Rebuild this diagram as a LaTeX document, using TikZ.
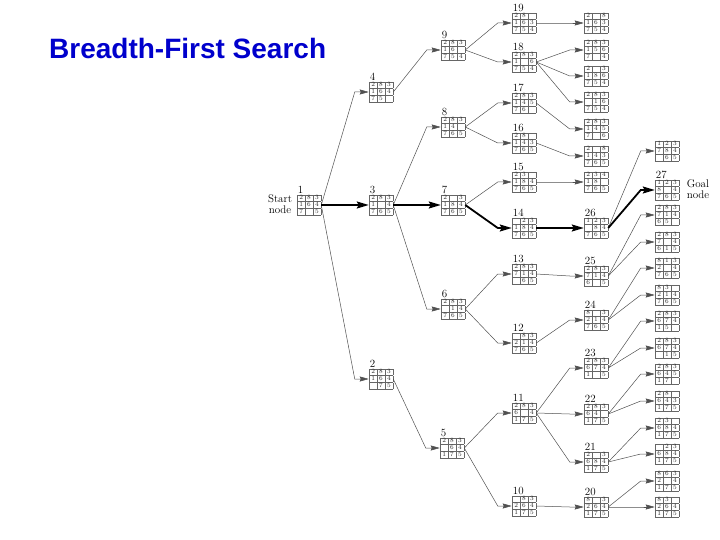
\documentclass[tikz,border=0pt]{standalone}
\usepackage{fontspec}
\usepackage{xcolor}
\usepackage{colortbl}
\usepackage{tikz}
\usetikzlibrary{arrows.meta}
\newfontfamily\titlefont{Liberation Sans}
\definecolor{titleblue}{RGB}{0,0,204}
\definecolor{wire}{RGB}{80,80,80}

\newcommand{\tcell}[1]{\makebox[7.5pt]{\rule[-1.7pt]{0pt}{6.2pt}\ifx0#1\else#1\fi}}
\newcommand{\tiles}[9]{{\fontsize{6.5}{6}\selectfont\setlength{\tabcolsep}{0pt}%
  \arrayrulecolor{black!60}%
  \begin{tabular}{|c|c|c|}\hline
  \tcell#1&\tcell#2&\tcell#3\\\hline
  \tcell#4&\tcell#5&\tcell#6\\\hline
  \tcell#7&\tcell#8&\tcell#9\\\hline
  \end{tabular}}}

\tikzset{
  puz/.style={inner sep=0pt, text=black!85},
  lbl/.style={anchor=south west, inner sep=1pt, font=\fontsize{11}{12}\selectfont},
  edge/.style={draw=wire, line width=0.5pt, -{Stealth[length=9pt,width=5pt,inset=1pt]}},
  solved/.style={draw=black, line width=1.8pt, -{Stealth[length=12pt,width=7pt,inset=2pt]}}
}

\begin{document}
\begin{tikzpicture}[x=1pt,y=-1pt]
  \useasboundingbox (0,0) rectangle (720,540);

  \node[anchor=west, inner sep=0pt, text=titleblue,
        font=\titlefont\bfseries\fontsize{28}{32}\selectfont] (title) at (49,48) {Breadth-First Search};

  \node[align=center, inner sep=0pt, font=\fontsize{11}{11}\selectfont] (start) at (280,204) {Start\\node};
  \node[align=center, inner sep=0pt, font=\fontsize{11}{11}\selectfont] (goal) at (698,189) {Goal\\node};

  \node[puz, label={[lbl]north west:1}] (n1) at (309,205) {\tiles 283164705};

  \node[puz, label={[lbl]north west:4}] (n4) at (381,92) {\tiles 283164750};
  \node[puz, label={[lbl]north west:3}] (n3) at (381,205) {\tiles 283104765};
  \node[puz, label={[lbl]north west:2}] (n2) at (381,379) {\tiles 283164075};

  \node[puz, label={[lbl]north west:9}] (n9) at (453,50) {\tiles 283160754};
  \node[puz, label={[lbl]north west:8}] (n8) at (453,127) {\tiles 283140765};
  \node[puz, label={[lbl]north west:7}] (n7) at (453,205) {\tiles 203184765};
  \node[puz, label={[lbl]north west:6}] (n6) at (453,309) {\tiles 283014765};
  \node[puz, label={[lbl]north west:5}] (n5) at (452,448) {\tiles 283064175};

  \node[puz, label={[lbl]north west:19}] (n19) at (524,23) {\tiles 280163754};
  \node[puz, label={[lbl]north west:18}] (n18) at (524,62) {\tiles 283106754};
  \node[puz, label={[lbl]north west:17}] (n17) at (524,103) {\tiles 283145760};
  \node[puz, label={[lbl]north west:16}] (n16) at (524,143) {\tiles 280143765};
  \node[puz, label={[lbl]north west:15}] (n15) at (524,182) {\tiles 230184765};
  \node[puz, label={[lbl]north west:14}] (n14) at (524,228) {\tiles 023184765};
  \node[puz, label={[lbl]north west:13}] (n13) at (524,274) {\tiles 283714065};
  \node[puz, label={[lbl]north west:12}] (n12) at (524,343) {\tiles 083214765};
  \node[puz, label={[lbl]north west:11}] (n11) at (524,413) {\tiles 283604175};
  \node[puz, label={[lbl]north west:10}] (n10) at (524,506) {\tiles 083264175};

  \node[puz] (c19) at (596,23) {\tiles 208163754};
  \node[puz] (c18a) at (596,50) {\tiles 283156704};
  \node[puz] (c18b) at (596,76) {\tiles 203186754};
  \node[puz] (c18c) at (596,102) {\tiles 283016754};
  \node[puz] (c17) at (596,129) {\tiles 283145706};
  \node[puz] (c16) at (596,156) {\tiles 208143765};
  \node[puz] (c15) at (596,182) {\tiles 234180765};
  \node[puz, label={[lbl]north west:26}] (n26) at (596,228) {\tiles 123084765};
  \node[puz, label={[lbl]north west:25}] (n25) at (596,276) {\tiles 283714605};
  \node[puz, label={[lbl]north west:24}] (n24) at (596,320) {\tiles 803214765};
  \node[puz, label={[lbl]north west:23}] (n23) at (596,368) {\tiles 283674105};
  \node[puz, label={[lbl]north west:22}] (n22) at (596,414) {\tiles 283640175};
  \node[puz, label={[lbl]north west:21}] (n21) at (596,462) {\tiles 203684175};
  \node[puz, label={[lbl]north west:20}] (n20) at (596,507) {\tiles 803264175};

  \node[puz] (c26a) at (667,151) {\tiles 123784065};
  \node[puz, label={[lbl]north west:27}] (n27) at (667,190) {\tiles 123804765};
  \node[puz] (c25a) at (667,215) {\tiles 283714650};
  \node[puz] (c25b) at (667,242) {\tiles 283704615};
  \node[puz] (c24a) at (667,268) {\tiles 813204765};
  \node[puz] (c24b) at (667,295) {\tiles 830214765};
  \node[puz] (c23a) at (667,321) {\tiles 283674150};
  \node[puz] (c23b) at (667,348) {\tiles 283674015};
  \node[puz] (c22a) at (667,374) {\tiles 283645170};
  \node[puz] (c22b) at (667,401) {\tiles 280643175};
  \node[puz] (c21a) at (667,428) {\tiles 230684175};
  \node[puz] (c21b) at (667,454) {\tiles 023684175};
  \node[puz] (c20a) at (667,481) {\tiles 863204175};
  \node[puz] (c20b) at (667,507) {\tiles 830264175};

  \foreach \p/\c in {
    n1/n4, n1/n2, n4/n9, n3/n8, n3/n6, n2/n5,
    n9/n19, n9/n18, n8/n17, n8/n16, n7/n15, n6/n13, n6/n12, n5/n11, n5/n10,
    n19/c19, n18/c18a, n18/c18b, n18/c18c, n17/c17, n16/c16, n15/c15,
    n13/n25, n12/n24, n11/n23, n11/n22, n11/n21, n10/n20,
    n26/c26a, n25/c25a, n25/c25b, n24/c24a, n24/c24b, n23/c23a, n23/c23b,
    n22/c22a, n22/c22b, n21/c21a, n21/c21b, n20/c20a, n20/c20b}{
    \draw[edge] (\p.east) -- ([xshift=-14pt]\c.west) -- (\c.west);
  }
  \foreach \p/\c in {n1/n3, n3/n7, n7/n14, n14/n26, n26/n27}{
    \draw[solved] (\p.east) -- ([xshift=-14pt]\c.west) -- (\c.west);
  }
\end{tikzpicture}
\end{document}
